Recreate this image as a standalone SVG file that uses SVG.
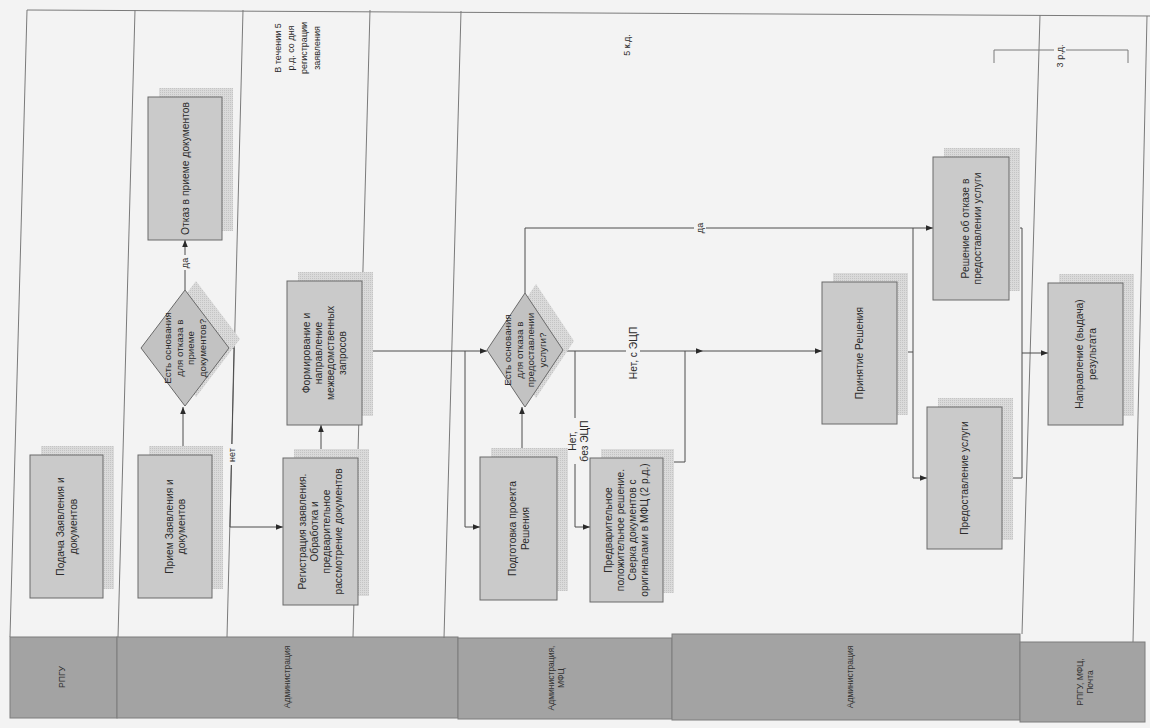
<svg xmlns="http://www.w3.org/2000/svg" width="1150" height="728" viewBox="0 0 1150 728">
<defs>
<pattern id="dots" width="2" height="2" patternUnits="userSpaceOnUse">
<rect width="2" height="2" fill="#dadada"/>
<rect width="1" height="1" fill="#c4c4c4"/>
</pattern>
<marker id="ar" viewBox="0 0 10 10" refX="10" refY="5" markerWidth="7" markerHeight="7" orient="auto" markerUnits="userSpaceOnUse">
<path d="M0,1 L10,5 L0,9 z" fill="#2a2a2a"/>
</marker>
<style>
.bx{fill:#cacaca;stroke:#6a6a6a;stroke-width:1}
.dm{fill:#c2c2c2;stroke:#6a6a6a;stroke-width:1}
.sh{fill:url(#dots)}
.t{font-family:"Liberation Sans",Arial,sans-serif;font-size:10.3px;fill:#2b2b2b;text-anchor:middle}
.s9{font-size:9px}
.sd{font-size:9.8px}
.ht{font-size:8.5px;fill:#333}
.c{fill:none;stroke:#4d4d4d;stroke-width:1}
.a{marker-end:url(#ar)}
.ln{fill:none;stroke:#7a7a7a;stroke-width:1}
.hd{fill:#a3a3a3;stroke:#7d7d7d;stroke-width:1}
.bg{fill:#f3f3f3}
</style>
</defs>
<rect width="1150" height="728" fill="#f3f3f3"/>
<g id="header">
<rect class="hd" x="10" y="637" width="107" height="81"/>
<rect class="hd" x="117" y="637" width="341" height="81"/>
<rect class="hd" x="458" y="638" width="214" height="81"/>
<rect class="hd" x="672" y="634" width="348" height="86"/>
<rect class="hd" x="1020" y="642" width="125" height="80"/>
<text class="t ht" transform="translate(62,677) rotate(-90)"><tspan x="0" dy="3">РПГУ</tspan></text>
<text class="t ht" transform="translate(287,677) rotate(-90)"><tspan x="0" dy="3">Администрация</tspan></text>
<text class="t ht" transform="translate(556,678) rotate(-90)"><tspan x="0" dy="-2">Администрация,</tspan><tspan x="0" dy="10">МФЦ</tspan></text>
<text class="t ht" transform="translate(850,677) rotate(-90)"><tspan x="0" dy="3">Администрация</tspan></text>
<text class="t ht" transform="translate(1085,682) rotate(-90)"><tspan x="0" dy="-2">РПГУ, МФЦ,</tspan><tspan x="0" dy="10">Почта</tspan></text>
</g>
<g id="lanes">
<path class="ln" d="M27,10 L1150,16"/>
<path class="ln" d="M27,10 L10,637"/>
<path class="ln" d="M135,10 L118,637"/>
<path class="ln" d="M243,10 L227,637"/>
<path class="ln" d="M370,10 L353,637"/>
<path class="ln" d="M461,11 L444,638"/>
<path class="ln" d="M1040,15 L1022,634"/>
<path class="ln" d="M1147,16 L1133,642"/>
</g>
<g id="notes">
<text class="t s9" transform="translate(297,48) rotate(-90)"><tspan x="0" dy="-16.3">В течении 5</tspan><tspan x="0" dy="13">р.д. со дня</tspan><tspan x="0" dy="13">регистрации</tspan><tspan x="0" dy="13">заявления</tspan></text>
<text class="t s9" transform="translate(627,45) rotate(-90)"><tspan x="0" dy="3.2">5 к.д.</tspan></text>
<path class="ln" d="M994,63 V50 H1128 V63"/>
<rect class="bg" x="1054" y="42" width="12" height="27"/>
<text class="t s9" transform="translate(1060,56) rotate(-90)"><tspan x="0" dy="3.2">3 р.д.</tspan></text>
</g>
<g id="connectors">
<path class="c a" d="M183,455 V407"/>
<path class="c a" d="M185,290 V240"/>
<path class="c a" d="M229,348 H234 L230,527 H283"/>
<path class="c a" d="M321,458 V425"/>
<path class="c a" d="M362,351 H487"/>
<path class="c a" d="M465,351 V527 H480"/>
<path class="c a" d="M522,457 V407"/>
<path class="c a" d="M525,293 V228 H933"/>
<path class="c a" d="M563,351 H703"/>
<path class="c a" d="M703,351 H822"/>
<path class="c a" d="M575,351 V527 H590"/>
<path class="c" d="M663,462 H685 V351"/>
<path class="c" d="M897,352 H913"/>
<path class="c" d="M913,228 V478"/>
<path class="c a" d="M913,478 H927"/>
<path class="c" d="M1009,228 H1022 V478 H1002"/>
<path class="c a" d="M1022,353 H1048"/>
<rect class="bg" x="179" y="255" width="12" height="15"/>
<text class="t s9" transform="translate(185,263) rotate(-90)"><tspan x="0" dy="3">да</tspan></text>
<rect class="bg" x="226" y="444" width="12" height="21"/>
<text class="t s9" transform="translate(232,455) rotate(-90)"><tspan x="0" dy="3">нет</tspan></text>
<rect class="bg" x="694" y="220" width="12" height="15"/>
<text class="t s9" transform="translate(700,228) rotate(-90)"><tspan x="0" dy="3">да</tspan></text>
<rect class="bg" x="626" y="325" width="14" height="56"/>
<text class="t" transform="translate(633,353) rotate(-90)"><tspan x="0" dy="3.5">Нет, с ЭЦП</tspan></text>
<rect class="bg" x="566" y="418" width="24" height="46"/>
<text class="t" transform="translate(578,441) rotate(-90)"><tspan x="0" dy="-2.5">Нет,</tspan><tspan x="0" dy="12">без ЭЦП</tspan></text>
</g>
<g id="n1">
<rect class="sh" x="41" y="446" width="73" height="143"/>
<rect class="bx" x="30" y="455" width="73" height="143"/>
<text class="t" transform="translate(66.5,526.5) rotate(-90)"><tspan x="0" dy="-2.5">Подача Заявления и</tspan><tspan x="0" dy="12.5">документов</tspan></text>
</g>
<g id="n2">
<rect class="sh" x="149" y="446" width="74" height="143"/>
<rect class="bx" x="138" y="455" width="74" height="143"/>
<text class="t" transform="translate(175,526.5) rotate(-90)"><tspan x="0" dy="-2.5">Прием Заявления и</tspan><tspan x="0" dy="12.5">документов</tspan></text>
</g>
<g id="d1">
<polygon class="sh" points="196,281 240,339 196,397 152,339"/>
<polygon class="dm" points="185,290 229,348 185,406 141,348"/>
<text class="t sd" transform="translate(185,348) rotate(-90)"><tspan x="0" dy="-14">Есть основания</tspan><tspan x="0" dy="11.5">для отказа в</tspan><tspan x="0" dy="11.5">приеме</tspan><tspan x="0" dy="11.5">документов?</tspan></text>
</g>
<g id="n3">
<rect class="sh" x="159" y="88" width="74" height="143"/>
<rect class="bx" x="148" y="97" width="74" height="143"/>
<text class="t" transform="translate(185,168.5) rotate(-90)"><tspan x="0" dy="3.5">Отказ в приеме документов</tspan></text>
</g>
<g id="n4">
<rect class="sh" x="294" y="449" width="75" height="147"/>
<rect class="bx" x="283" y="458" width="75" height="147"/>
<text class="t" transform="translate(320.5,531.5) rotate(-90)"><tspan x="0" dy="-14.5">Регистрация заявления.</tspan><tspan x="0" dy="12">Обработка и</tspan><tspan x="0" dy="12">предварительное</tspan><tspan x="0" dy="12">рассмотрение документов</tspan></text>
</g>
<g id="n5">
<rect class="sh" x="298" y="272" width="75" height="144"/>
<rect class="bx" x="287" y="281" width="75" height="144"/>
<text class="t" transform="translate(324.5,353) rotate(-90)"><tspan x="0" dy="-14.5">Формирование и</tspan><tspan x="0" dy="12">направление</tspan><tspan x="0" dy="12">межведомственных</tspan><tspan x="0" dy="12">запросов</tspan></text>
</g>
<g id="d2">
<polygon class="sh" points="536,284 574,341 536,398 498,341"/>
<polygon class="dm" points="525,293 563,350 525,407 487,350"/>
<text class="t sd" transform="translate(525,350) rotate(-90)"><tspan x="0" dy="-14">Есть основания</tspan><tspan x="0" dy="11.5">для отказа в</tspan><tspan x="0" dy="11.5">предоставлении</tspan><tspan x="0" dy="11.5">услуги?</tspan></text>
</g>
<g id="n6">
<rect class="sh" x="491" y="448" width="77" height="143"/>
<rect class="bx" x="480" y="457" width="77" height="143"/>
<text class="t" transform="translate(518.5,528.5) rotate(-90)"><tspan x="0" dy="-2.5">Подготовка проекта</tspan><tspan x="0" dy="12.5">Решения</tspan></text>
</g>
<g id="n7">
<rect class="sh" x="601" y="449" width="73" height="144"/>
<rect class="bx" x="590" y="458" width="73" height="144"/>
<text class="t" transform="translate(626.5,530) rotate(-90)"><tspan x="0" dy="-14.5">Предварительное</tspan><tspan x="0" dy="12">положительное решение.</tspan><tspan x="0" dy="12">Сверка документов с</tspan><tspan x="0" dy="12">оригиналами в МФЦ (2 р.д.)</tspan></text>
</g>
<g id="n8">
<rect class="sh" x="833" y="273" width="75" height="142"/>
<rect class="bx" x="822" y="282" width="75" height="142"/>
<text class="t" transform="translate(859.5,353) rotate(-90)"><tspan x="0" dy="3.5">Принятие Решения</tspan></text>
</g>
<g id="n9">
<rect class="sh" x="944" y="148" width="76" height="143"/>
<rect class="bx" x="933" y="157" width="76" height="143"/>
<text class="t" transform="translate(971,228.5) rotate(-90)"><tspan x="0" dy="-2.5">Решение об отказе в</tspan><tspan x="0" dy="12.5">предоставлении услуги</tspan></text>
</g>
<g id="n10">
<rect class="sh" x="938" y="398" width="75" height="142"/>
<rect class="bx" x="927" y="407" width="75" height="142"/>
<text class="t" transform="translate(964.5,478) rotate(-90)"><tspan x="0" dy="3.5">Предоставление услуги</tspan></text>
</g>
<g id="n11">
<rect class="sh" x="1059" y="274" width="75" height="142"/>
<rect class="bx" x="1048" y="283" width="75" height="142"/>
<text class="t" transform="translate(1085.5,354) rotate(-90)"><tspan x="0" dy="-2.5">Направление (выдача)</tspan><tspan x="0" dy="12.5">результата</tspan></text>
</g>
</svg>
